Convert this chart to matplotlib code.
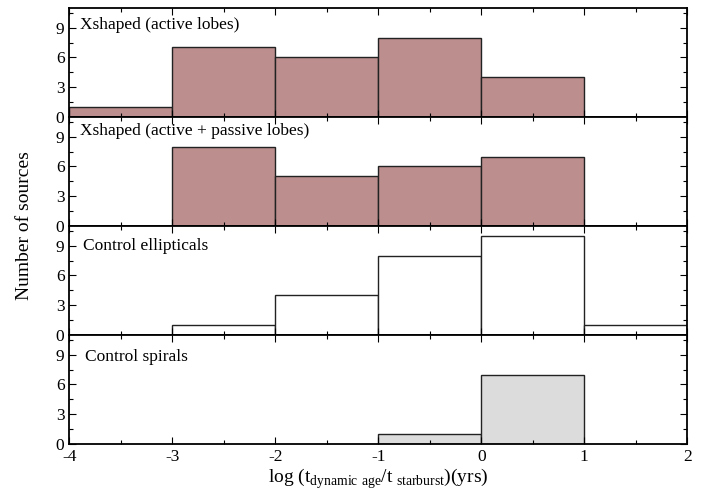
import numpy as np
import matplotlib
matplotlib.use('Agg')
import matplotlib.pyplot as plt
from matplotlib.ticker import MultipleLocator

plt.rcParams['font.family'] = 'Liberation Serif'
plt.rcParams['mathtext.fontset'] = 'custom'
plt.rcParams['mathtext.rm'] = 'Liberation Serif'
plt.rcParams['axes.unicode_minus'] = False

bin_left = [-4, -3, -2, -1, 0, 1]
active_lobes = [1, 7, 6, 8, 4, 0]
active_passive = [0, 8, 5, 6, 7, 0]
control_ell = [0, 1, 4, 8, 10, 1]
control_spi = [0, 0, 0, 1, 7, 0]

panel_names = ['Xshaped (active lobes)', 'Xshaped (active + passive lobes)',
               'Control ellipticals', 'Control spirals']
panel_counts = [active_lobes, active_passive, control_ell, control_spi]
panel_fill = ['#bc8e8e', '#bc8e8e', 'white', '#dcdcdc']
# label anchor per panel (axes fraction)
label_xy = [(0.018, 0.845), (0.018, 0.87), (0.022, 0.82), (0.025, 0.80)]

fig, axes = plt.subplots(4, 1, figsize=(7.07, 4.9), dpi=100, sharex=True)
fig.subplots_adjust(left=0.098, right=0.972, bottom=0.094, top=0.984, hspace=0)

for ax, name, counts, fc, (lx, ly) in zip(axes, panel_names, panel_counts,
                                           panel_fill, label_xy):
    x = np.array(bin_left)
    c = np.array(counts)
    keep = c > 0
    ax.bar(x[keep], c[keep], width=1.0, align='edge', facecolor=fc,
           edgecolor='#222222', linewidth=1.0)
    ax.set_xlim(-4, 2)
    ax.set_ylim(0, 11)
    ax.yaxis.set_major_locator(MultipleLocator(3))
    ax.yaxis.set_minor_locator(MultipleLocator(1.5))
    ax.xaxis.set_major_locator(MultipleLocator(1))
    ax.xaxis.set_minor_locator(MultipleLocator(0.5))
    ax.tick_params(which='both', direction='in', top=True, right=True,
                   labelsize=12.5, width=0.8)
    ax.tick_params(which='major', length=5)
    ax.tick_params(which='minor', length=3)
    for s in ax.spines.values():
        s.set_linewidth(1.3)
    ax.text(lx, ly, name, transform=ax.transAxes, fontsize=12.5,
            va='center', ha='left')

axes[-1].set_xlabel(r'log (t$_{\rm dynamic\ age}$/t$_{\rm \ starburst}$)(yrs)',
                    fontsize=14, labelpad=1)
fig.text(0.034, 0.54, 'Number of sources', rotation=90, fontsize=14,
         va='center', ha='center')

fig.savefig('out.png', dpi=100)
